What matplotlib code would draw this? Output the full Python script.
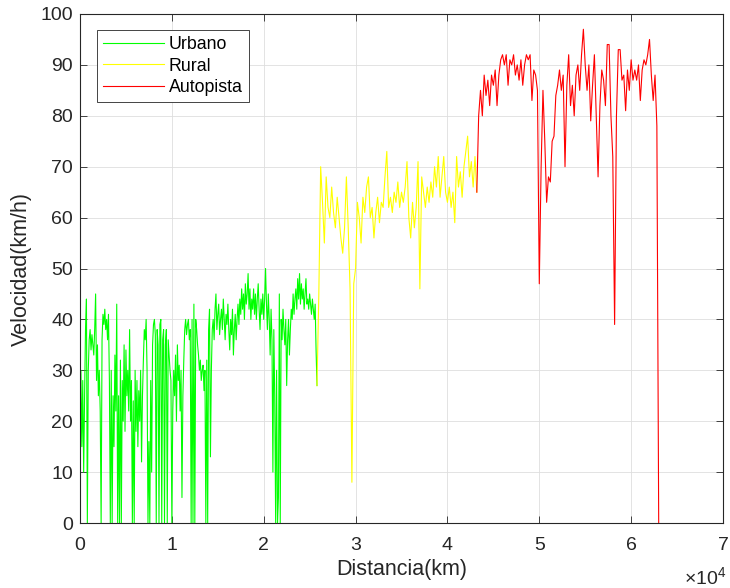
import numpy as np
import matplotlib
matplotlib.use('Agg')
import matplotlib.pyplot as plt
from matplotlib.ticker import FuncFormatter, MultipleLocator

# speed readings (km/h)
# urbano: one sample every 100 m starting at 0
urbano_v = [0, 30, 15, 28, 10, 25, 38, 44, 0, 30,
            36, 38, 34, 37, 35, 33, 38, 45, 28, 35,
            25, 30, 22, 0, 36, 41, 39, 42, 38, 40,
            36, 41, 28, 0, 30, 0, 25, 15, 33, 22,
            43, 0, 25, 0, 32, 0, 28, 20, 35, 18,
            34, 25, 30, 22, 38, 20, 28, 0, 24, 0,
            30, 18, 28, 15, 26, 20, 30, 12, 25, 32,
            38, 36, 40, 30, 0, 16, 0, 28, 10, 35,
            39, 40, 37, 0, 38, 35, 0, 39, 40, 0,
            36, 38, 0, 35, 38, 0, 36, 33, 30, 28,
            0, 22, 30, 25, 33, 20, 35, 28, 31, 22,
            30, 5, 25, 32, 38, 40, 37, 39, 40, 36,
            38, 0, 40, 0, 43, 0, 40, 38, 35, 33,
            30, 32, 28, 30, 31, 26, 30, 0, 32, 0,
            38, 42, 13, 30, 38, 40, 36, 42, 45, 38,
            41, 43, 37, 40, 42, 38, 44, 40, 36, 41,
            39, 43, 38, 34, 40, 37, 42, 33, 38, 41,
            36, 40, 43, 39, 44, 41, 46, 42, 45, 40,
            47, 43, 45, 49, 42, 46, 40, 44, 42, 46,
            41, 45, 40, 44, 47, 42, 38, 44, 41, 45,
            40, 44, 50, 43, 38, 45, 40, 33, 42, 36,
            10, 38, 25, 0, 30, 0, 5, 45, 0, 40,
            36, 42, 38, 35, 40, 27, 36, 40, 33, 38,
            42, 40, 45, 41, 44, 46, 42, 48, 44, 49,
            43, 47, 44, 46, 42, 45, 48, 43, 44, 42,
            45, 43, 41, 44, 42, 40, 43, 34, 27]

# rural: one sample every 200 m starting where urbano ends
rural_v = [27, 45, 70, 63, 55, 68, 62, 60, 66, 61,
           58, 64, 60, 56, 53, 58, 68, 58, 46, 8,
           47, 50, 63, 60, 55, 64, 61, 66, 68, 60,
           62, 56, 61, 64, 59, 63, 62, 68, 73, 62,
           64, 61, 65, 63, 67, 62, 65, 63, 66, 71,
           60, 56, 63, 58, 62, 71, 46, 68, 65, 62,
           66, 63, 67, 64, 70, 66, 72, 64, 68, 72,
           65, 63, 66, 62, 65, 59, 72, 66, 69, 64,
           70, 73, 76, 68, 71, 66, 72, 65]

# autopista: one sample every 200 m starting where rural ends
autopista_v = [65, 80, 85, 80, 88, 84, 87, 82, 88, 86,
               89, 82, 88, 91, 92, 90, 92, 86, 91, 90,
               92, 88, 90, 87, 91, 86, 90, 92, 91, 92,
               83, 89, 88, 85, 47, 70, 85, 75, 63, 68,
               67, 75, 76, 84, 86, 89, 85, 88, 70, 86,
               92, 82, 86, 80, 88, 90, 85, 92, 97, 90,
               85, 90, 79, 86, 92, 80, 68, 82, 89, 87,
               82, 94, 94, 80, 72, 39, 80, 93, 93, 87,
               88, 81, 89, 85, 91, 87, 89, 87, 90, 83,
               89, 91, 90, 92, 95, 88, 83, 88, 78, 0]

urbano_step = 100
rural_step = 200
autopista_step = 200

urbano_x = np.arange(len(urbano_v)) * urbano_step
rural_x = urbano_x[-1] + np.arange(len(rural_v)) * rural_step
autopista_x = rural_x[-1] + np.arange(len(autopista_v)) * autopista_step

plt.rcParams['font.family'] = ['Liberation Sans', 'DejaVu Sans']
plt.rcParams['mathtext.fontset'] = 'custom'
plt.rcParams['mathtext.rm'] = 'Liberation Sans'
dark = '#262626'

fig = plt.figure(figsize=(7.3, 5.88), dpi=100)
ax = fig.add_axes([80/730, 1 - 523/588, 643/730, 509/588])

ax.plot(urbano_x, urbano_v, color='#00ff00', lw=0.8, label='Urbano')
ax.plot(rural_x, rural_v, color='#ffff00', lw=0.8, label='Rural')
ax.plot(autopista_x, autopista_v, color='#ff0000', lw=0.8, label='Autopista')

ax.set_xlim(0, 70000)
ax.set_ylim(0, 100)
ax.xaxis.set_major_locator(MultipleLocator(10000))
ax.yaxis.set_major_locator(MultipleLocator(10))
ax.xaxis.set_major_formatter(FuncFormatter(lambda v, p: f'{v/1e4:g}'))

ax.grid(True, color='#dedede', lw=0.6)
ax.set_axisbelow(True)
for s in ax.spines.values():
    s.set_color(dark)
    s.set_linewidth(0.8)
ax.tick_params(direction='in', top=True, right=True, length=5, width=0.6,
               color=dark, labelcolor=dark, labelsize=14, pad=5)
ax.tick_params(axis='x', pad=10)

ax.set_xlabel('Distancia(km)', fontsize=15.5, color=dark, labelpad=4)
ax.set_ylabel('Velocidad(km/h)', fontsize=15.5, color=dark, labelpad=6)
fig.text(0.995, 1 - 577/588, r'$\mathregular{\times 10^{4}}$', ha='right',
         va='center', fontsize=14, color=dark)

leg = ax.legend(loc='upper left', bbox_to_anchor=(17/643, 493/509),
                borderaxespad=0, fontsize=12.8, fancybox=False,
                handlelength=3.4, handletextpad=0.3, labelspacing=0.25,
                borderpad=0.35, framealpha=1)
leg.get_frame().set_edgecolor(dark)
leg.get_frame().set_linewidth(0.6)

fig.savefig('out.png', dpi=100)
